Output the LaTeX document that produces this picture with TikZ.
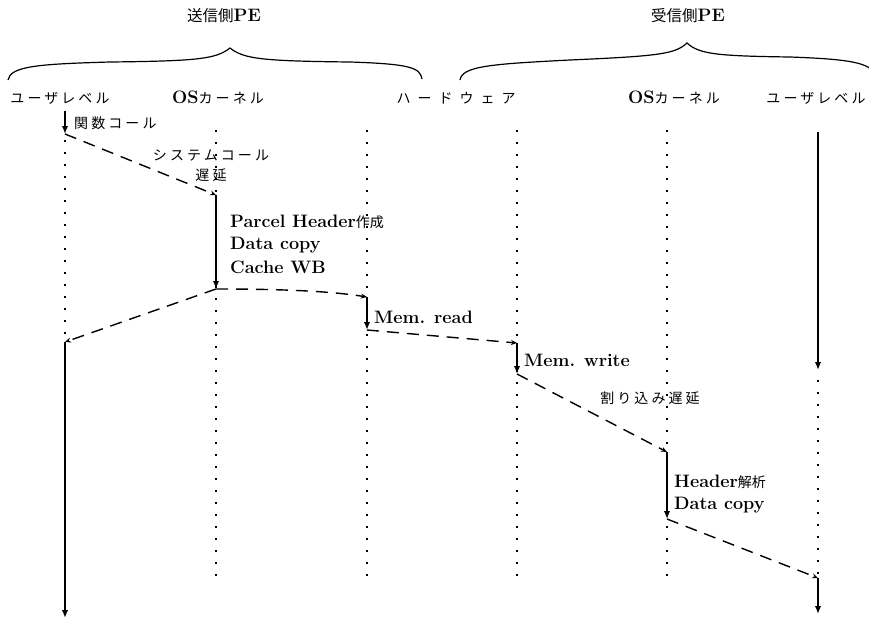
\documentclass[tikz,border=0pt]{standalone}
\usepackage{fontspec}
\newfontfamily\jp{Noto Sans CJK JP}
\newfontfamily\jpls[LetterSpace=22]{Noto Sans CJK JP}
\newfontfamily\jpwide[LetterSpace=50]{Noto Sans CJK JP}
\usetikzlibrary{arrows.meta}
\tikzset{
  life/.style={line width=1.6pt, dash pattern=on 1.6pt off 10.4pt},
  act/.style={line width=2.5pt, -{Latex[length=8pt,width=6.5pt]}},
  msg/.style={line width=1.4pt, dash pattern=on 12pt off 8pt, -{Stealth[length=6pt,width=5pt]}},
  brace/.style={line width=1.2pt},
  jlab/.style={font=\jpls\fontsize{14}{16}\selectfont, inner sep=0pt},
  blab/.style={font=\bfseries\fontsize{18}{20}\selectfont, inner sep=0pt, anchor=west},
  ttl/.style={font=\fontsize{18}{20}\selectfont, inner sep=0pt},
}
\begin{document}
\begin{tikzpicture}[x=1pt,y=-1pt]
\useasboundingbox (0,0) rectangle (869,619);

% titles
\node[ttl] (tsend) at (224,16) {{\jp\fontsize{15.5}{18}\selectfont 送信側}\textbf{PE}};
\node[ttl] (trecv) at (688,16) {{\jp\fontsize{15.5}{18}\selectfont 受信側}\textbf{PE}};

% braces
\draw[brace] (8,80) .. controls (10,66) and (40,64) .. (110,62)
  .. controls (198,61) and (216,59) .. (230,48)
  .. controls (244,59) and (262,61) .. (350,62)
  .. controls (412,64) and (420,68) .. (422,79);
\draw[brace] (460,80) .. controls (462,66) and (492,64) .. (570,60)
  .. controls (660,56) and (675,54) .. (687,43)
  .. controls (699,54) and (716,56) .. (790,57)
  .. controls (845,59) and (866,62) .. (874,72);

% column headers
\node[jlab] (h1) at (60,98) {ユーザレベル};
\node[jlab] (h2) at (218,98) {{\rmfamily\bfseries\fontsize{18}{20}\selectfont OS}カーネル};
\node[jlab, font=\jpwide\fontsize{14}{16}\selectfont] (h3) at (456,98) {ハードウェア};
\node[jlab] (h5) at (674,98) {{\rmfamily\bfseries\fontsize{18}{20}\selectfont OS}カーネル};
\node[jlab] (h6) at (816,98) {ユーザレベル};

% lifeline coordinates
\coordinate (l1t) at (65,140);  \coordinate (l1b) at (65,338);
\coordinate (l2t) at (216,130); \coordinate (l2b) at (216,577);
\coordinate (l3t) at (367,130); \coordinate (l3b) at (367,577);
\coordinate (l4t) at (517,130); \coordinate (l4b) at (517,577);
\coordinate (l5t) at (667,130); \coordinate (l5b) at (667,577);
\coordinate (l6t) at (818,380); \coordinate (l6b) at (818,577);
\foreach \i in {1,...,6} { \draw[life] (l\i t) -- (l\i b); }

% event points
\coordinate (a1s) at (65,111);  \coordinate (a1e) at (65,134);
\coordinate (a2s) at (216,195); \coordinate (a2e) at (216,289);
\coordinate (a3s) at (367,297); \coordinate (a3e) at (367,330);
\coordinate (a4s) at (517,343); \coordinate (a4e) at (517,374);
\coordinate (a5s) at (667,452); \coordinate (a5e) at (667,519);
\coordinate (a6s) at (818,578); \coordinate (a6e) at (818,614);
\coordinate (a7s) at (65,342);  \coordinate (a7e) at (65,618);
\coordinate (a8s) at (818,132); \coordinate (a8e) at (818,370);

% actions (solid)
\draw[act] (a1s) -- (a1e);
\draw[act] (a2s) -- (a2e);
\draw[act] (a3s) -- (a3e);
\draw[act] (a4s) -- (a4e);
\draw[act] (a5s) -- (a5e);
\draw[act] (a6s) -- (a6e);
\draw[act] (a7s) -- (a7e);
\draw[act] (a8s) -- (a8e);

% messages (dashed)
\draw[msg] (a1e) -- (a2s);
\draw[msg] (a2e) .. controls (280,289) and (330,291) .. (a3s);
\draw[msg] (a3e) -- (a4s);
\draw[msg] (a4e) -- (a5s);
\draw[msg] (a5e) -- (a6s);
\draw[msg] (a2e) -- (a7s);

% labels
\node[jlab, anchor=west] (lk) at (74,123) {関数コール};
\node[jlab] (ls1) at (211,155) {システムコール};
\node[jlab] (ls2) at (211,175) {遅延};
\node[blab] (lp1) at (230,222) {Parcel Header{\jp\mdseries\fontsize{14}{16}\selectfont 作成}};
\node[blab] (lp2) at (230,245) {Data copy};
\node[blab] (lp3) at (230,267) {Cache WB};
\node[blab] (lmr) at (374,317) {Mem. read};
\node[blab] (lmw) at (524,360) {Mem. write};
\node[jlab] (lint) at (650,398) {割り込み遅延};
\node[blab] (lh1) at (674,482) {Header{\jp\mdseries\fontsize{14}{16}\selectfont 解析}};
\node[blab] (lh2) at (674,505) {Data copy};
\end{tikzpicture}
\end{document}
